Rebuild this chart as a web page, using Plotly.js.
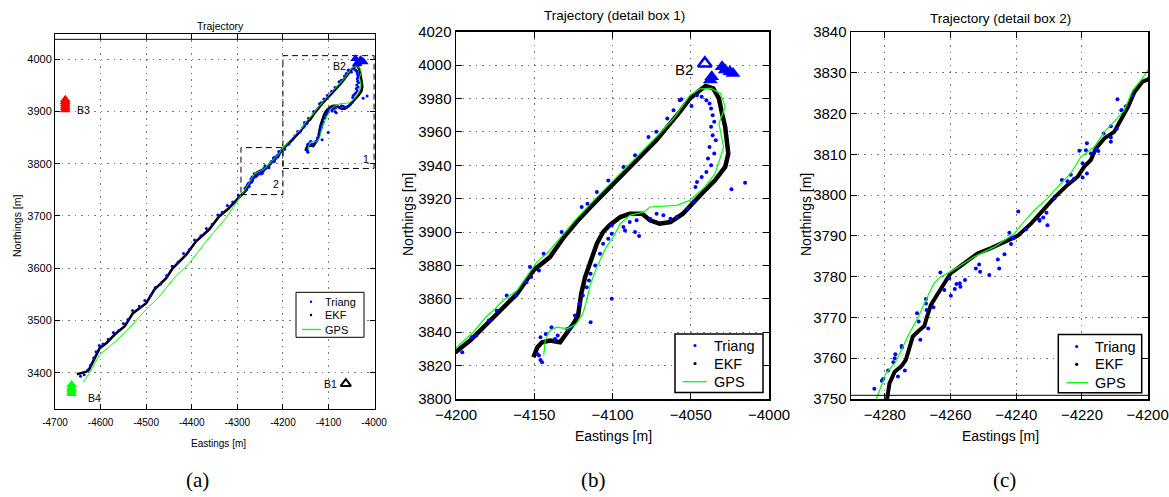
<!DOCTYPE html>
<html><head><meta charset="utf-8">
<script src="https://cdn.plot.ly/plotly-3.0.1.min.js"></script>
<style>html,body{margin:0;padding:0;background:#fff}#chart{width:1169px;height:497px}</style>
</head><body><div id="chart"></div>
<script>
// ---------------- DATA ----------------
const ekfX = [-4652,-4641,-4631,-4626,-4618,-4609,-4602,-4587,-4569,-4547,-4529,-4500,-4482,-4456,-4442,-4412,-4391,-4362,-4340,-4320,-4300,-4286,-4279.5,
 -4279,-4278.6,-4277,-4275,-4273.6,-4272.5,-4271.5,-4270,-4268,-4267,-4266,-4264.5,-4263,-4261.4,-4260,-4257.3,-4254.8,-4251.8,-4247.7,-4243.6,-4239.6,-4235.5,-4231.5,-4228.4,-4224.4,-4221.3,-4219.3,-4217.3,-4215.8,-4213.2,-4210.2,-4208.2,-4206,-4204,-4201.6,
 -4200,-4191,-4182.5,-4172,-4161,-4150.6,-4140,-4131,-4123,-4114,-4093,-4072,-4057,-4050.5,-4044,-4040.5,-4035.6,-4032,-4030,-4028,-4027,-4026,-4028,-4034.5,-4043,-4049,-4055,-4063,-4070,-4076,-4081,-4089,-4095,-4102,-4106,-4110,-4114,-4117.5,-4120,-4122,-4125,-4129,-4133.5,-4140,-4145,-4148,-4150.5];
const ekfY = [3397,3400,3402,3405,3420,3435,3447,3457,3473,3489,3514,3533,3559,3581,3600,3626,3651,3674,3699,3714,3732,3743,3749,
 3751,3753.8,3756.7,3758,3759.6,3762.8,3765.3,3766.5,3767.9,3770.6,3773,3775,3777,3778.8,3780.8,3782.4,3784,3785.7,3787,3788.6,3790,3793,3796.7,3799.4,3802.5,3804.5,3807,3808.6,3811.4,3813.9,3815.5,3818.4,3821.6,3825.3,3827.8,
 3828.3,3835,3843,3853,3863,3877,3885,3897,3906,3915,3935,3955,3972,3980,3985,3987.5,3986,3980,3971,3963,3955,3947,3939,3931,3923,3917,3911,3906,3905,3907,3911,3911,3909,3904,3900,3893,3883,3873,3863,3850,3845,3840,3834,3835,3834,3831,3825];

const gpsX = [-4638,-4624,-4602,-4580,-4544,-4522,-4500,-4471,-4442,-4405,-4369,-4325,-4300,-4288,
 -4282.7,-4281,-4279.7,-4277,-4275,-4272.6,-4270,-4268,-4266.5,-4265,-4263,-4260,-4256.8,-4252.8,-4246.7,-4240.6,-4237.6,-4234.5,-4230.5,-4226.4,-4223.4,-4220.3,-4216.3,-4213.2,-4210.2,-4207.1,-4204.6,-4202,
 -4199.6,-4189,-4180,-4176,-4170,-4161,-4148.4,-4142,-4131,-4123,-4112,-4093,-4080,-4072,-4061,-4050.5,-4044,-4037,-4031,-4028,-4032,-4030,-4029,-4031,-4034.5,-4041,-4050.5,-4059,-4067.5,-4076,-4080,-4089,-4095,-4099.5,-4104,-4110,-4114,-4116.5,-4119,-4123,-4129,-4135.5,-4140,-4143,-4144];
const gpsY = [3382,3400,3435,3450,3479,3501,3521,3546,3578,3610,3651,3696,3728,3744,
 3749.8,3753.4,3756.3,3758.7,3762,3766,3769.8,3773.5,3776,3778.4,3780,3781.2,3782.8,3784.9,3787.3,3790.6,3793.5,3796.3,3799.2,3802.9,3805.3,3809.4,3811.8,3815.5,3818,3820.8,3825.7,3828.2,
 3831,3840,3850,3853,3859,3865,3882,3887,3899,3908,3919,3937,3949,3957,3968,3982,3985.8,3986,3983,3975,3965,3955,3951,3945,3935,3927,3919,3916,3915.6,3915,3912,3910,3905,3897,3891,3879,3869,3859,3851,3845,3842,3843,3841,3835,3826];

const triX = [-4644,-4636,-4628,-4622,-4615,-4610,-4603,-4595,-4583,-4572,-4560,-4550,-4540,-4530,-4515,-4503,-4490,-4480,-4468,-4455,-4443,-4430,-4418,-4405,-4394,-4380,-4368,-4355,-4343,-4333,-4322,-4310,-4298,
 -4283.2,-4280.9,-4280.5,-4279,-4277.4,-4277,-4276.8,-4276,-4274.9,-4274.8,-4273.9,-4270.2,-4269.7,-4269.2,-4267.5,-4267.5,-4267.3,-4266.8,-4265.2,-4263.1,-4261.9,-4260.4,-4259.9,-4258.7,-4258.2,-4257.2,-4257,-4255.6,-4252.3,-4251.3,-4251,-4248.2,-4245.6,-4245.2,-4243.6,-4242.1,-4241.6,-4241.4,-4240.8,-4239.4,-4237,-4233,-4232.9,-4231.8,-4230.8,-4230.5,
 -4228.4,-4226.1,-4224.4,-4223.4,-4222.4,-4220.8,-4219.8,-4219.8,-4218.8,-4218.5,-4218.5,-4217.3,-4215.8,-4215,-4213.4,-4211.2,-4211.2,-4211.2,-4209.4,-4209.2,-4208,-4207.9,-4206.6,-4204.6,
 -4196,-4190,-4187,-4179,-4174,-4167.6,-4161.7,-4155,-4152,-4152.7,-4147,-4144,-4132.5,-4116,-4119.7,-4110,-4102.7,-4093,-4085.6,-4077,-4072,-4065,-4061,-4056,
 -4057,-4049.5,-4046,-4043,-4040,-4038,-4037,-4036,-4035,-4037,-4036,-4034,-4038,-4035,-4039,-4037,-4040,-4043,-4046,-4047,-4024,-4015.3,
 -4146,-4142.7,-4139,-4136.7,-4135,-4129,-4127,-4124,-4121,-4119,-4116.5,-4115,-4114,-4111,-4108,-4106,-4102.7,-4100.5,-4100.5,-4093,-4089,-4084.6,-4083,-4076,-4071.8,-4067.5,-4063,-4059,-4114,-4100.5,-4147,-4146,-4148,-4145,-4052,-4048,-4092,-4085.6];
const triY = [3393,3396,3405,3414,3428,3440,3452,3455,3464,3477,3481,3494,3502,3519,3527,3538,3548,3563,3570,3586,3604,3612,3628,3636,3654,3662,3676,3684,3702,3707,3720,3727,3740,
 3752.5,3754.5,3754.9,3757,3759,3760,3761,3755.5,3763,3762.6,3757,3771,3769,3764.5,3774.5,3773.4,3771.8,3767.3,3772.5,3781,3776.7,3779.6,3775.3,3777,3778.2,3778.4,3777.5,3779.2,3782,3783,3781.2,3780.4,3784.2,3782,3785.5,3790.8,3788,3789.6,3789.4,3796,3791.6,3794,3793.7,3794.5,3795.7,3792.6,
 3799.2,3803.7,3803.4,3805,3804,3810.9,3807.8,3804.3,3811,3812.7,3805.3,3810.2,3811.2,3810.8,3815.1,3816.9,3814.1,3813.1,3816.3,3823.5,3820.8,3820.8,3821.8,3824.5,
 3828,3837,3838,3847,3853,3862,3862,3870,3873,3879,3877,3887,3900,3917,3915,3924,3930.9,3939,3946,3957,3960,3968,3973,3979.5,
 3979,3975.5,3982,3981,3979,3977,3974,3970,3966,3963,3958,3955,3951,3947,3944,3940,3936,3933,3930,3927,3925.6,3929.6,
 3837,3839,3843,3836,3838,3842,3843,3850,3857,3862,3867,3871,3875,3880,3887,3893,3896,3899,3904,3903,3906,3907,3897.6,3908,3911,3910,3908,3909,3846,3860,3826,3823.4,3827,3822,3914,3918,3901,3900];

// beacons
const b1X = [-4062], b1Y = [3379];
const b2OpenX = [-4041], b2OpenY = [4001];
const b2X = [-4036.6,-4037.5,-4030,-4028,-4025,-4023], b2Y = [3993,3991,3999,3997,3996,3995];
const b3X = [-4677.5,-4677.5,-4677.5,-4677.5,-4677.5,-4677.5], b3Y = [3903,3907,3911,3915,3919,3923];
const b4X = [-4663.6,-4663.6,-4663.6,-4663.6,-4663.6], b4Y = [3360,3364,3368,3372,3377];
// detail boxes drawn in panel (a)
const box1X = [-4200,-4000,-4000,-4200,-4200], box1Y = [3791,3791,4007,4007,3791];
const box2X = [-4292,-4200,-4200,-4292,-4292], box2Y = [3741,3741,3831,3831,3741];

// series names (legend)
const seriesNames = ['Triang', 'EKF', 'GPS'];

// tick labels
const aXticks = [-4700,-4600,-4500,-4400,-4300,-4200,-4100,-4000];
const aXtext = ['-4700','-4600','-4500','-4400','-4300','-4200','-4100','-4000'];
const aYticks = [3400,3500,3600,3700,3800,3900,4000];
const bXticks = [-4200,-4150,-4100,-4050,-4000];
const bXtext = ['\u22124200','\u22124150','\u22124100','\u22124050','\u22124000'];
const bYticks = [3800,3820,3840,3860,3880,3900,3920,3940,3960,3980,4000,4020];
const cXticks = [-4280,-4260,-4240,-4220,-4200];
const cXtext = ['\u22124280','\u22124260','\u22124240','\u22124220','\u22124200'];
const cYticks = [3750,3760,3770,3780,3790,3800,3810,3820,3830,3840];

// ---------------- LAYOUT HELPERS ----------------
const W = 1169, H = 497;
const fx = p => p / W, fy = p => 1 - p / H;
const FONT = 'Liberation Sans, Arial, Helvetica, sans-serif';
const SERIF = 'Liberation Serif, DejaVu Serif, serif';

function axis(dom, range, tickvals, ticktext, fs, lw, anchor, tl) {
  const a = {domain: dom, range: range, tickvals: tickvals, showline: true, linecolor: '#000', linewidth: lw,
    mirror: 'ticks', ticks: 'inside', ticklen: tl, tickcolor: '#000', tickwidth: 1,
    showgrid: true, gridcolor: '#777', griddash: '1.5px,5px', gridwidth: 1, zeroline: false,
    ticklabeloverflow: 'allow',
    tickfont: {family: FONT, size: fs, color: '#000'}, anchor: anchor, fixedrange: true};
  if (ticktext) a.ticktext = ticktext;
  return a;
}

const traces = [];
function panel(xa, ya, s) {
  traces.push({x: ekfX, y: ekfY, xaxis: xa, yaxis: ya, mode: 'lines', line: {color: '#000', width: s.ekf}, name: seriesNames[1], hoverinfo: 'skip'});
  traces.push({x: triX, y: triY, xaxis: xa, yaxis: ya, mode: 'markers', marker: {color: '#0000ff', size: s.tri}, name: seriesNames[0], hoverinfo: 'skip'});
  traces.push({x: gpsX, y: gpsY, xaxis: xa, yaxis: ya, mode: 'lines', line: {color: '#00ff00', width: s.gps}, name: seriesNames[2], hoverinfo: 'skip'});
}
panel('x', 'y', {ekf: 2.6, tri: 3, gps: 1});
panel('x2', 'y2', {ekf: 4.5, tri: 4, gps: 1.2});
panel('x3', 'y3', {ekf: 4, tri: 4, gps: 1.2});

// boxes and beacons in panel (a)
traces.push({x: box1X, y: box1Y, xaxis: 'x', yaxis: 'y', mode: 'lines', line: {color: '#000', width: 1, dash: '6px,4px'}, hoverinfo: 'skip'});
traces.push({x: box2X, y: box2Y, xaxis: 'x', yaxis: 'y', mode: 'lines', line: {color: '#000', width: 1, dash: '6px,4px'}, hoverinfo: 'skip'});
traces.push({x: b3X, y: b3Y, xaxis: 'x', yaxis: 'y', mode: 'markers', marker: {symbol: 'triangle-up', color: '#ff0000', size: 9.5}});
traces.push({x: b4X, y: b4Y, xaxis: 'x', yaxis: 'y', mode: 'markers', marker: {symbol: 'triangle-up', color: '#00ff00', size: 9.5}});
traces.push({x: b1X, y: b1Y, xaxis: 'x', yaxis: 'y', mode: 'markers', marker: {symbol: 'triangle-up-open', color: '#000', size: 9, line: {width: 2, color: '#000'}}});
traces.push({x: b2X, y: b2Y, xaxis: 'x', yaxis: 'y', mode: 'markers', marker: {symbol: 'triangle-up', color: '#0000ff', size: 9}});
traces.push({x: b2OpenX, y: b2OpenY, xaxis: 'x', yaxis: 'y', mode: 'markers', marker: {symbol: 'triangle-up', color: '#0000ff', size: 9}});
// beacons in panel (b)
traces.push({x: b2X, y: b2Y, xaxis: 'x2', yaxis: 'y2', mode: 'markers', marker: {symbol: 'triangle-up', color: '#0000ff', size: 13}});
traces.push({x: b2OpenX, y: b2OpenY, xaxis: 'x2', yaxis: 'y2', mode: 'markers', marker: {symbol: 'triangle-up-open', color: '#0000ff', size: 12, line: {width: 2.5, color: '#0000ff'}}});

function ann(text, x, y, size, extra) {
  return Object.assign({text: text, x: fx(x), y: fy(y), xref: 'paper', yref: 'paper', showarrow: false,
    xanchor: 'center', yanchor: 'middle', font: {family: FONT, size: size, color: '#000'}}, extra || {});
}
function dann(text, x, y, xr, yr, size) {
  return {text: text, x: x, y: y, xref: xr, yref: yr, showarrow: false, xanchor: 'center', yanchor: 'middle',
    font: {family: FONT, size: size, color: '#000'}};
}

// hand-built MATLAB-style legend boxes (pixel geometry)
const shapes = [
  {type: 'line', xref: 'paper', yref: 'paper', x0: fx(55), x1: fx(375), y0: fy(39.3), y1: fy(39.3), line: {color: '#000', width: 1}},
  {type: 'line', xref: 'paper', yref: 'paper', x0: fx(851), x1: fx(1148), y0: fy(395.3), y1: fy(395.3), line: {color: '#000', width: 1}}
];
const annotations = [];
function legendBox(L, T, R, B, symX, lineX0, lineX1, textX, rows, fs, r, bw) {
  shapes.push({type: 'rect', xref: 'paper', yref: 'paper', x0: fx(L), x1: fx(R), y0: fy(B), y1: fy(T),
    fillcolor: '#fff', line: {color: '#000', width: bw}});
  shapes.push({type: 'circle', xref: 'paper', yref: 'paper', x0: fx(symX - r), x1: fx(symX + r), y0: fy(rows[0] + r), y1: fy(rows[0] - r),
    fillcolor: '#0000ff', line: {width: 0}});
  shapes.push({type: 'circle', xref: 'paper', yref: 'paper', x0: fx(symX - r), x1: fx(symX + r), y0: fy(rows[1] + r), y1: fy(rows[1] - r),
    fillcolor: '#000', line: {width: 0}});
  shapes.push({type: 'line', xref: 'paper', yref: 'paper', x0: fx(lineX0), x1: fx(lineX1), y0: fy(rows[2]), y1: fy(rows[2]),
    line: {color: '#00ff00', width: 1.3}});
  for (let i = 0; i < 3; i++) {
    annotations.push({text: seriesNames[i], x: fx(textX), y: fy(rows[i]), xref: 'paper', yref: 'paper', showarrow: false,
      xanchor: 'left', yanchor: 'middle', font: {family: FONT, size: fs, color: '#000'}});
  }
}
legendBox(296, 292.3, 364, 337.3, 311, 302, 321, 323, [301.7, 315, 329.5], 11, 1.2, 1);
legendBox(675, 334, 763, 392.5, 695, 682.7, 706.7, 712, [345.5, 363.5, 381.7], 14.5, 1.6, 1.5);
legendBox(1058.3, 334.5, 1141.7, 392.7, 1076.7, 1066.7, 1088.3, 1093, [346.5, 364.3, 382.7], 14.5, 1.6, 1.5);

annotations.push(
  ann('Trajectory', 220, 26, 10.5),
  ann('Trajectory (detail box 1)', 614, 16, 13.5),
  ann('Trajectory (detail box 2)', 1000, 18, 13.5),
  ann('Eastings [m]', 218, 443, 10),
  ann('Northings [m]', 17, 226, 10.5, {textangle: -90}),
  ann('Eastings [m]', 613, 436, 14),
  ann('Northings [m]', 408, 215, 14, {textangle: -90}),
  ann('Eastings [m]', 1000, 436, 14),
  ann('Northings [m]', 806, 215, 14, {textangle: -90}),
  ann('(a)', 197, 480, 21, {font: {family: SERIF, size: 21, color: '#000'}}),
  ann('(b)', 593, 480, 21, {font: {family: SERIF, size: 21, color: '#000'}}),
  ann('(c)', 1004, 480, 21, {font: {family: SERIF, size: 21, color: '#000'}}),
  dann('B3', -4638, 3903, 'x', 'y', 10.5),
  dann('B2', -4076, 3988, 'x', 'y', 10.5),
  dann('B4', -4613, 3352, 'x', 'y', 10.5),
  dann('B1', -4096, 3378, 'x', 'y', 10.5),
  dann('1', -4017, 3809, 'x', 'y', 10.5),
  dann('2', -4215, 3761, 'x', 'y', 10.5),
  dann('B2', -4054.6, 3997.6, 'x2', 'y2', 15)
);

const layout = {
  width: W, height: H, margin: {l: 0, r: 0, t: 0, b: 0}, paper_bgcolor: '#fff', plot_bgcolor: '#fff',
  showlegend: false,
  xaxis: Object.assign(axis([fx(55), fx(375)], [-4700, -3998], aXticks, aXtext, 10, 1, 'y', 5), {ticklabelstandoff: 4}),
  yaxis: axis([fy(409.3), fy(33.5)], [3329.9, 4049.4], aYticks, null, 11, 1, 'x', 5),
  xaxis2: Object.assign(axis([fx(456), fx(769)], [-4200, -4000], bXticks, bXtext, 15, 1.5, 'y2', 6), {ticklabelstandoff: 1}),
  yaxis2: axis([fy(399), fy(31.7)], [3800, 4020], bYticks, null, 15, 1.5, 'x2', 6),
  xaxis3: Object.assign(axis([fx(851), fx(1148)], [-4290.3, -4199.9], cXticks, cXtext, 15, 1.5, 'y3', 6), {ticklabelstandoff: 1}),
  yaxis3: axis([fy(399), fy(32)], [3750, 3840], cYticks, null, 15, 1.5, 'x3', 6),
  shapes: shapes,
  annotations: annotations
};

Plotly.newPlot('chart', traces, layout, {displayModeBar: false, staticPlot: true});
</script>
</body></html>
